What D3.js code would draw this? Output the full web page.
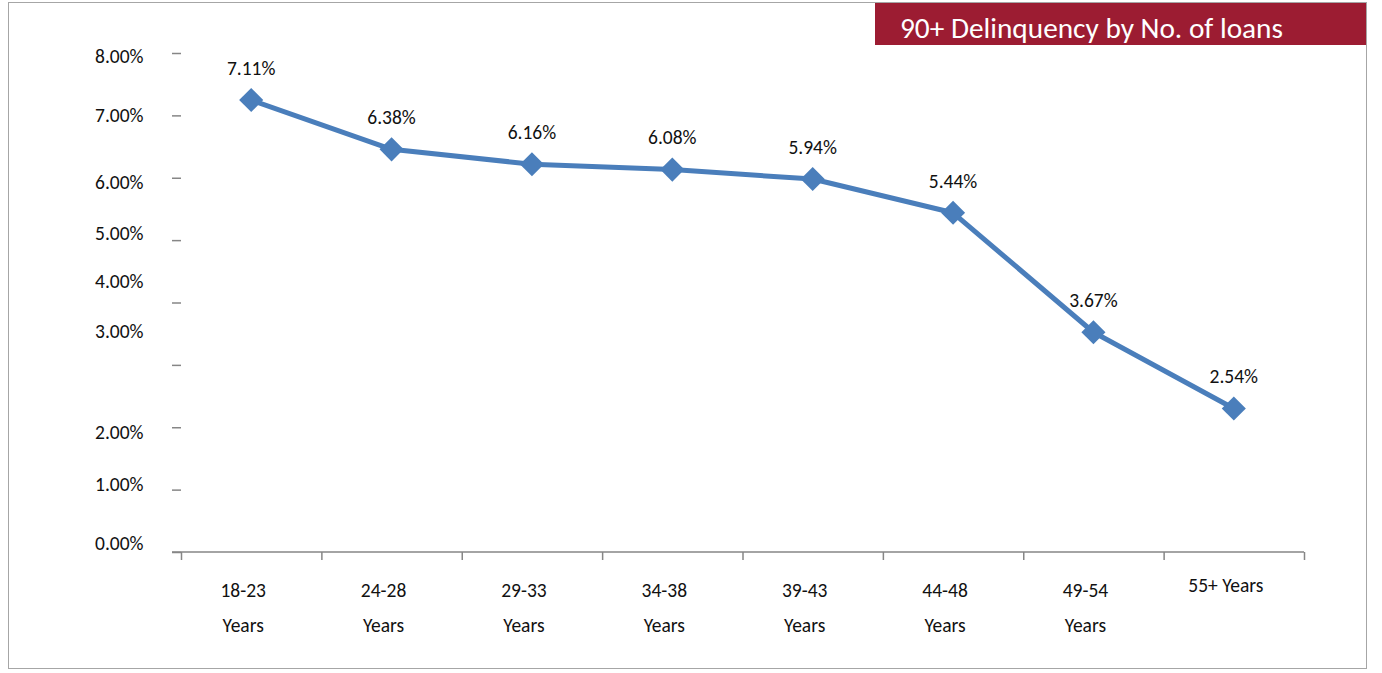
<!DOCTYPE html>
<html>
<head>
<meta charset="utf-8">
<script src="https://cdn.jsdelivr.net/npm/d3@7"></script>
<style>
  body { margin: 0; background: #fff; }
  svg text { font-family: Calibri, Carlito, "Open Sans", sans-serif; fill: #111; }
</style>
</head>
<body>
<svg id="chart" width="1382" height="673"></svg>
<script>
// data
const categories = ["18-23 Years", "24-28 Years", "29-33 Years", "34-38 Years",
                    "39-43 Years", "44-48 Years", "49-54 Years", "55+ Years"];
const delinquency = [7.11, 6.38, 6.16, 6.08, 5.94, 5.44, 3.67, 2.54];
const yTickValues = [0, 1, 2, 3, 4, 5, 6, 7, 8];
const title = "90+ Delinquency by No. of loans";

// the y tick labels sit off their tick marks in the original, shift them the same way
const labelShift = [-9, -5, 5, -34, -21, -7, 4, 0, 3];

const svg = d3.select("#chart");

svg.append("rect")
    .attr("x", 8.5).attr("y", 2.5)
    .attr("width", 1358).attr("height", 666)
    .attr("fill", "none")
    .attr("stroke", "#a6a6a6");

svg.append("rect")
    .attr("x", 875).attr("y", 3)
    .attr("width", 491).attr("height", 42)
    .attr("fill", "#9c1c32");

svg.append("text")
    .attr("x", 900).attr("y", 28)
    .attr("dy", "0.35em")
    .style("font-size", "29.3px")
    .style("fill", "#fff")
    .text(title);

// scales
const x = d3.scaleBand().domain(categories).range([181, 1304]);
const xEdges = d3.scaleLinear().domain([0, categories.length]).range([181, 1304]);
const yAxisScale = d3.scaleLinear().domain([0, 8]).range([552, 53]);
const y = d3.scaleLinear().domain([0, 8]).range([580, 40]);

// x axis: ticks at band edges
const xAxis = svg.append("g")
    .attr("transform", "translate(0,552)")
    .call(d3.axisBottom(xEdges).tickValues(d3.range(categories.length + 1))
        .tickSize(8).tickSizeOuter(0).tickFormat(""));
xAxis.select(".domain").remove();
xAxis.selectAll(".tick line").attr("stroke", "#868686").attr("stroke-width", 1.5);
svg.append("line")
    .attr("x1", 172).attr("x2", 1304)
    .attr("y1", 552).attr("y2", 552)
    .attr("stroke", "#868686").attr("stroke-width", 1.5);

// category labels (two lines)
const cx = d => x(d) + x.bandwidth() / 2 - 8;
svg.append("g").selectAll("text")
    .data(categories)
    .enter()
    .append("text")
    .attr("text-anchor", "middle")
    .attr("x", cx)
    .attr("y", 590)
    .attr("dy", "0.35em")
    .style("font-size", "19.5px")
    .each(function (d) {
        const t = d3.select(this);
        if (d.startsWith("55+")) {
            t.attr("y", 585).text(d);
        } else {
            const parts = d.split(" ");
            t.append("tspan").attr("x", cx(d)).text(parts[0]);
            t.append("tspan").attr("x", cx(d)).attr("dy", 35).text(parts[1]);
        }
    });

// y axis: only short tick marks
const yAxis = svg.append("g")
    .attr("transform", "translate(181,0)")
    .call(d3.axisLeft(yAxisScale).tickValues(yTickValues).tickSize(9).tickFormat(""));
yAxis.select(".domain").remove();
yAxis.selectAll(".tick line").attr("stroke", "#868686").attr("stroke-width", 1.5);

svg.append("g").selectAll("text")
    .data(yTickValues)
    .enter()
    .append("text")
    .attr("x", 95)
    .attr("y", (d, i) => yAxisScale(d) + labelShift[i])
    .attr("dy", "0.35em")
    .style("font-size", "19.5px")
    .text(d => d3.format(".2f")(d) + "%");

// line
const line = d3.line()
    .x((d, i) => x(categories[i]) + x.bandwidth() / 2)
    .y(d => y(d));

svg.append("path")
    .datum(delinquency)
    .attr("d", line)
    .attr("fill", "none")
    .attr("stroke", "#4a7ebb")
    .attr("stroke-width", 5)
    .attr("stroke-linejoin", "round");

svg.append("g").selectAll("path")
    .data(delinquency)
    .enter()
    .append("path")
    .attr("d", d3.symbol(d3.symbolSquare, 290))
    .attr("transform", (d, i) => `translate(${x(categories[i]) + x.bandwidth() / 2},${y(d)}) rotate(45)`)
    .attr("fill", "#4a7ebb");

svg.append("g").selectAll("text")
    .data(delinquency)
    .enter()
    .append("text")
    .attr("text-anchor", "middle")
    .attr("x", (d, i) => x(categories[i]) + x.bandwidth() / 2)
    .attr("y", d => y(d) - 32)
    .attr("dy", "0.35em")
    .style("font-size", "19.5px")
    .text(d => d3.format(".2f")(d) + "%");
</script>
</body>
</html>
